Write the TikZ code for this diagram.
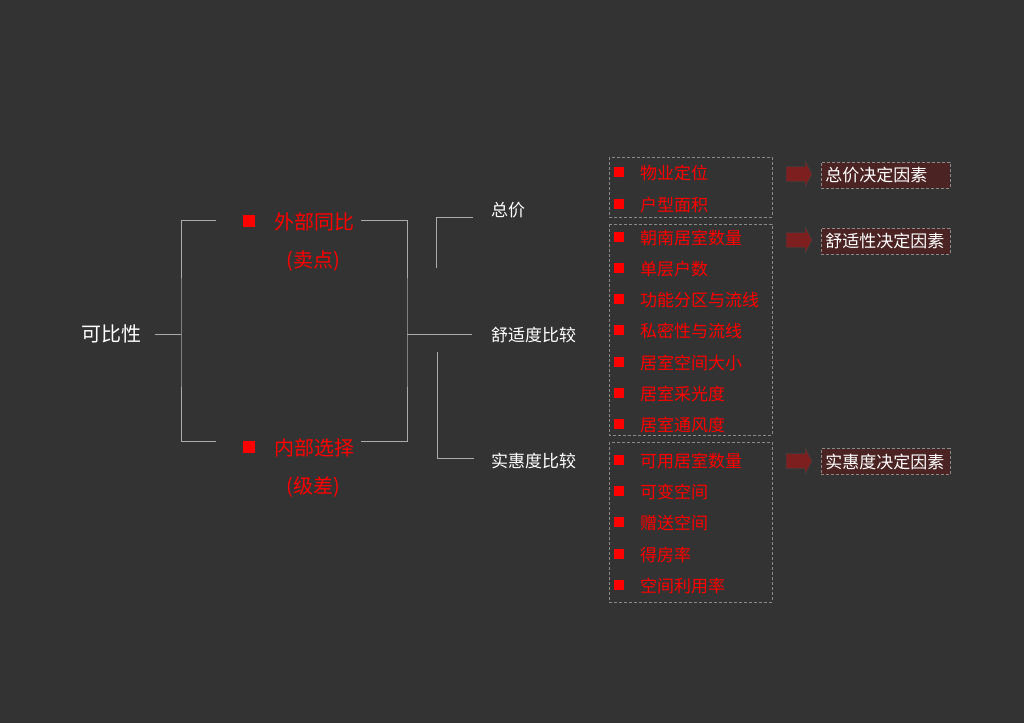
\documentclass[tikz,border=0pt]{standalone}
\usepackage{fontspec}
\setmainfont{Noto Sans CJK SC}
\usepackage{tikz}
\usetikzlibrary{positioning}
\definecolor{bg}{HTML}{333333}
\definecolor{hotred}{HTML}{FF0000}
\definecolor{linegray}{HTML}{ABABAB}
\definecolor{boxgray}{HTML}{8A8A8A}
\definecolor{arrowred}{HTML}{7E1F1F}
\definecolor{tagfill}{HTML}{4B2323}

\begin{document}
\begin{tikzpicture}[x=1pt,y=-1pt,
  big/.style={font=\fontsize{20}{24}\selectfont,inner sep=0pt},
  lbl/.style={font=\fontsize{17}{20}\selectfont,inner sep=0pt,text=white},
  item/.style={font=\fontsize{17}{20}\selectfont,inner sep=0pt,text=hotred,anchor=west},
  bul/.style={fill=hotred,minimum size=10pt,inner sep=0pt},
  bigbul/.style={fill=hotred,minimum size=12pt,inner sep=0pt},
  brk/.style={draw=linegray,line width=1pt},
  grp/.style={draw=boxgray,densely dashed,line width=0.6pt},
  blk/.style={fill=arrowred,draw=black!75,line width=0.5pt},
  tag/.style={draw=boxgray,densely dashed,fill=tagfill,line width=0.6pt,
    text=white,font=\fontsize{17}{20}\selectfont,text width=121pt,
    align=left,inner sep=4pt,minimum height=26pt,anchor=west}
]
  \fill[bg] (0,0) rectangle (1024,723);

  \node[big,text=white] (root) at (111,334) {可比性};

  \node[bigbul] (wsq) at (249,221) {};
  \node[big,text=hotred,anchor=west] (wtxt) at (274,222) {外部同比};
  \node[big,text=hotred] (wsub) at (313,261) {(卖点)};
  \node[bigbul] (nsq) at (249,447) {};
  \node[big,text=hotred,anchor=west] (ntxt) at (274,448) {内部选择};
  \node[big,text=hotred] (nsub) at (313,487) {(级差)};

  \coordinate (lb) at (181,334);
  \coordinate (rb) at (407,334);
  \draw[brk] ([xshift=14pt]root.east) -- (lb);
  \draw[brk] ([xshift=-27pt]wsq.west |- 0,220) -| (lb) |- ([xshift=-27pt]nsq.west |- 0,441);
  \draw[brk] ([xshift=7pt]wtxt.east |- 0,220) -| (rb) |- ([xshift=7pt]ntxt.east |- 0,441);

  \node[lbl,anchor=west] (tot) at (491,210) {总价};
  \node[lbl,anchor=west] (cmf) at (491,335) {舒适度比较};
  \node[lbl,anchor=west] (val) at (491,461) {实惠度比较};

  \coordinate (t1) at (436,268);
  \coordinate (v1) at (437,352);
  \draw[brk] (rb) -- ([xshift=-19pt]cmf.west |- rb);
  \draw[brk] (t1) |- ([xshift=-18pt]tot.west |- 0,217);
  \draw[brk] (v1) |- ([xshift=-17pt]val.west |- 0,458);

  % grouping boxes
  \draw[grp] (609,157) rectangle (772,217);
  \draw[grp] (609,224) rectangle (772,435);
  \draw[grp] (609,442) rectangle (772,602);

  \foreach \t/\y [count=\i] in {物业定位/172,户型面积/204,朝南居室数量/237,
      单层户数/268,功能分区与流线/299,私密性与流线/330,居室空间大小/362,
      居室采光度/393,居室通风度/424,可用居室数量/460,可变空间/491,
      赠送空间/522,得房率/554,空间利用率/585}{
    \node[bul] (b\i) at (619,\y) {};
    \node[item] (it\i) at (640,\y+1) {\t};
  }

  % block arrows
  \foreach \y [count=\i] in {174,240,461}{
    \coordinate (a\i) at (798,\y);
    \draw[blk] (a\i) ++(-12,-7.5) -- ++(19,0) -- ++(0,-6) -- ++(7,13.5)
      -- ++(-7,13.5) -- ++(0,-6) -- ++(-19,0) -- cycle;
  }

  \node[tag] (f1) at (821,175) {总价决定因素};
  \node[tag] (f2) at (821,241) {舒适性决定因素};
  \node[tag] (f3) at (821,461.5) {实惠度决定因素};
\end{tikzpicture}
\end{document}
